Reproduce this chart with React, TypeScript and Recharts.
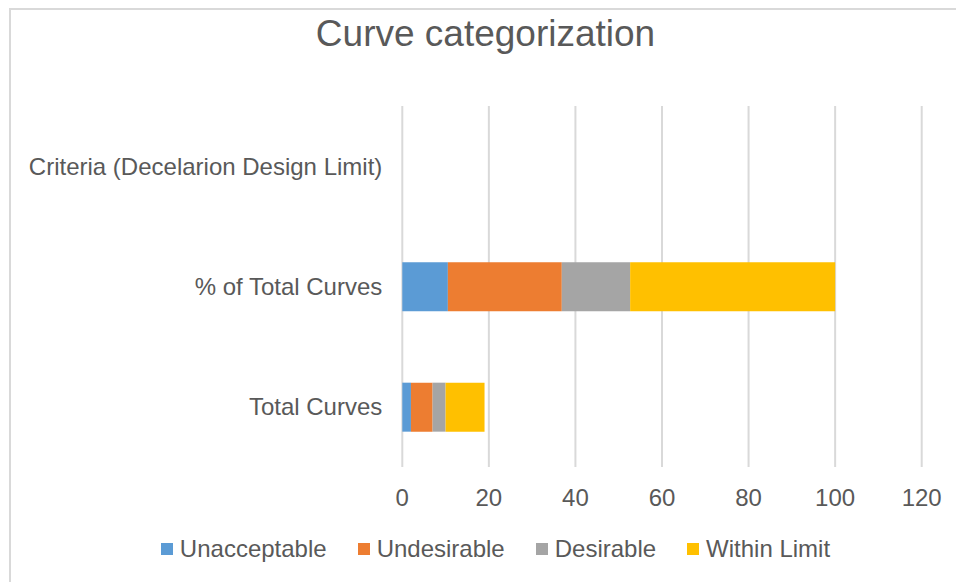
import React from "react";
import { BarChart, Bar, XAxis, YAxis, CartesianGrid, Legend } from "recharts";

const categories = ["Criteria (Decelarion Design Limit)", "% of Total Curves", "Total Curves"];
const unacceptable = [null, 10.53, 2];
const undesirable = [null, 26.32, 5];
const desirable = [null, 15.79, 3];
const withinLimit = [null, 47.37, 9];
const xTicks = [0, 20, 40, 60, 80, 100, 120];

const seriesNames = ["Unacceptable", "Undesirable", "Desirable", "Within Limit"];
const seriesKeys = ["unacceptable", "undesirable", "desirable", "withinLimit"];
const seriesColors = ["#5B9BD5", "#ED7D31", "#A5A5A5", "#FFC000"];

const data = categories.map((name, i) => ({
  name,
  unacceptable: unacceptable[i],
  undesirable: undesirable[i],
  desirable: desirable[i],
  withinLimit: withinLimit[i],
}));

const FONT = "'Liberation Sans', Arial, sans-serif";
const TEXT = "#595959";

const renderLegend = (props: any) => {
  const payload = [...(props.payload || [])].sort(
    (a: any, b: any) => seriesNames.indexOf(a.value) - seriesNames.indexOf(b.value)
  );
  return (
    <div
      style={{
        display: "flex",
        justifyContent: "center",
        alignItems: "center",
        height: 24,
        fontFamily: FONT,
        fontSize: 24,
        lineHeight: "24px",
        color: TEXT,
        whiteSpace: "nowrap",
      }}
    >
      {payload.map((entry: any, i: number) => (
        <div
          key={i}
          style={{ display: "flex", alignItems: "center", marginLeft: i === 0 ? 0 : 31 }}
        >
          <span
            style={{ display: "inline-block", width: 12, height: 12, background: entry.color, marginRight: 7 }}
          />
          <span>{entry.value}</span>
        </div>
      ))}
    </div>
  );
};

export default function App() {
  return (
    <div
      style={{
        position: "absolute",
        left: 0,
        top: 0,
        width: 956,
        height: 582,
        overflow: "hidden",
        background: "#ffffff",
      }}
    >
      <div
        style={{
          position: "absolute",
          left: 9,
          top: 8,
          width: 1000,
          height: 700,
          border: "2px solid #D9D9D9",
          boxSizing: "border-box",
        }}
      />
      <div
        style={{
          position: "absolute",
          left: 9.5,
          top: 14.5,
          width: 952,
          textAlign: "center",
          fontFamily: FONT,
          fontSize: 37,
          lineHeight: "37px",
          color: TEXT,
        }}
      >
        Curve categorization
      </div>
      <div style={{ position: "absolute", left: 0, top: 0 }}>
        <BarChart
          width={956}
          height={582}
          data={data}
          layout="vertical"
          margin={{ top: 106, right: 34.3, bottom: 85, left: 0 }}
        >
          <CartesianGrid horizontal={false} vertical={true} stroke="#D9D9D9" strokeWidth={2} />
          <XAxis
            type="number"
            domain={[0, 120]}
            ticks={xTicks}
            axisLine={false}
            tickLine={false}
            tickSize={0}
            tickMargin={22}
            height={30}
            interval={0}
            tick={{ fill: TEXT, fontSize: 24, fontFamily: FONT }}
          />
          <YAxis
            type="category"
            dataKey="name"
            width={402.3}
            axisLine={false}
            tickLine={false}
            tickSize={0}
            tickMargin={20}
            interval={0}
            tick={{ fill: TEXT, fontSize: 24, fontFamily: FONT }}
          />
          <Legend
            verticalAlign="middle"
            layout="horizontal"
            content={renderLegend}
            wrapperStyle={{ top: 537, left: 9.5, width: 972 }}
          />
          {seriesKeys.map((k, i) => (
            <Bar
              key={k}
              dataKey={k}
              name={seriesNames[i]}
              stackId="a"
              fill={seriesColors[i]}
              barSize={49}
              isAnimationActive={false}
            />
          ))}
        </BarChart>
      </div>
    </div>
  );
}
